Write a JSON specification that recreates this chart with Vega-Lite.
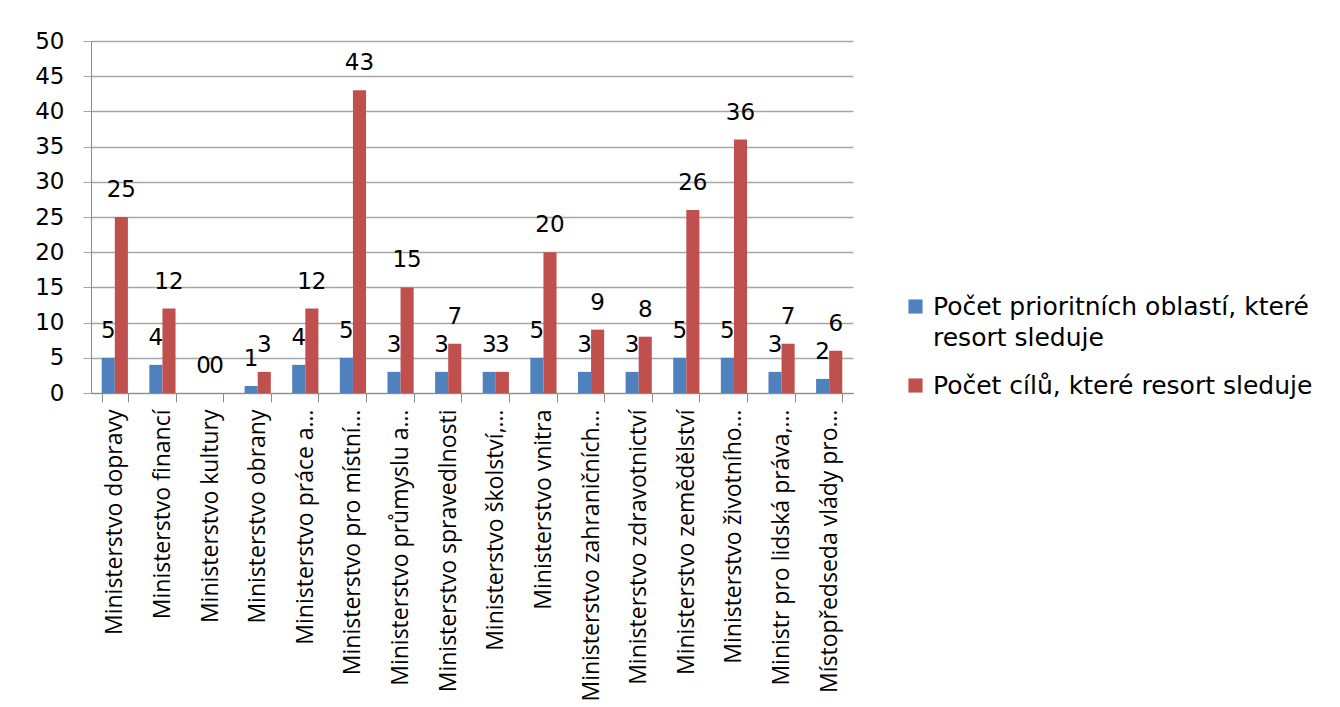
{
  "$schema": "https://vega.github.io/schema/vega-lite/v6.json",
  "autosize": {"type": "none"},
  "width": 762,
  "height": 352,
  "padding": {"left": 91, "top": 41, "right": 487, "bottom": 314},
  "background": "white",
  "config": {
    "font": "DejaVu Sans",
    "view": {"stroke": null},
    "style": {"guide-label": {"lineHeight": 31}}
  },
  "data": {
    "values": [
      {"category": "Ministerstvo dopravy", "series": "Počet prioritních oblastí, které resort sleduje", "value": 5},
      {"category": "Ministerstvo dopravy", "series": "Počet cílů, které resort sleduje", "value": 25},
      {"category": "Ministerstvo financí", "series": "Počet prioritních oblastí, které resort sleduje", "value": 4},
      {"category": "Ministerstvo financí", "series": "Počet cílů, které resort sleduje", "value": 12},
      {"category": "Ministerstvo kultury", "series": "Počet prioritních oblastí, které resort sleduje", "value": 0},
      {"category": "Ministerstvo kultury", "series": "Počet cílů, které resort sleduje", "value": 0},
      {"category": "Ministerstvo obrany", "series": "Počet prioritních oblastí, které resort sleduje", "value": 1},
      {"category": "Ministerstvo obrany", "series": "Počet cílů, které resort sleduje", "value": 3},
      {"category": "Ministerstvo práce a…", "series": "Počet prioritních oblastí, které resort sleduje", "value": 4},
      {"category": "Ministerstvo práce a…", "series": "Počet cílů, které resort sleduje", "value": 12},
      {"category": "Ministerstvo pro místní…", "series": "Počet prioritních oblastí, které resort sleduje", "value": 5},
      {"category": "Ministerstvo pro místní…", "series": "Počet cílů, které resort sleduje", "value": 43},
      {"category": "Ministerstvo průmyslu a…", "series": "Počet prioritních oblastí, které resort sleduje", "value": 3},
      {"category": "Ministerstvo průmyslu a…", "series": "Počet cílů, které resort sleduje", "value": 15},
      {"category": "Ministerstvo spravedlnosti", "series": "Počet prioritních oblastí, které resort sleduje", "value": 3},
      {"category": "Ministerstvo spravedlnosti", "series": "Počet cílů, které resort sleduje", "value": 7},
      {"category": "Ministerstvo školství,…", "series": "Počet prioritních oblastí, které resort sleduje", "value": 3},
      {"category": "Ministerstvo školství,…", "series": "Počet cílů, které resort sleduje", "value": 3},
      {"category": "Ministerstvo vnitra", "series": "Počet prioritních oblastí, které resort sleduje", "value": 5},
      {"category": "Ministerstvo vnitra", "series": "Počet cílů, které resort sleduje", "value": 20},
      {"category": "Ministerstvo zahraničních…", "series": "Počet prioritních oblastí, které resort sleduje", "value": 3},
      {"category": "Ministerstvo zahraničních…", "series": "Počet cílů, které resort sleduje", "value": 9},
      {"category": "Ministerstvo zdravotnictví", "series": "Počet prioritních oblastí, které resort sleduje", "value": 3},
      {"category": "Ministerstvo zdravotnictví", "series": "Počet cílů, které resort sleduje", "value": 8},
      {"category": "Ministerstvo zemědělství", "series": "Počet prioritních oblastí, které resort sleduje", "value": 5},
      {"category": "Ministerstvo zemědělství", "series": "Počet cílů, které resort sleduje", "value": 26},
      {"category": "Ministerstvo životního…", "series": "Počet prioritních oblastí, které resort sleduje", "value": 5},
      {"category": "Ministerstvo životního…", "series": "Počet cílů, které resort sleduje", "value": 36},
      {"category": "Ministr pro lidská práva,…", "series": "Počet prioritních oblastí, které resort sleduje", "value": 3},
      {"category": "Ministr pro lidská práva,…", "series": "Počet cílů, které resort sleduje", "value": 7},
      {"category": "Místopředseda vlády pro…", "series": "Počet prioritních oblastí, které resort sleduje", "value": 2},
      {"category": "Místopředseda vlády pro…", "series": "Počet cílů, které resort sleduje", "value": 6}
    ]
  },
  "encoding": {
    "x": {
      "field": "category",
      "type": "nominal",
      "sort": null,
      "title": null,
      "scale": {"paddingInner": 0.45, "paddingOuter": 0.225},
      "axis": {
        "labelAngle": -90,
        "labelFont": "Open Sans",
        "labelFontSize": 23,
        "labelColor": "#000000",
        "labelPadding": 7,
        "labelLimit": 400,
        "domainColor": "#8c8c8c",
        "tickColor": "#8c8c8c",
        "tickSize": 9,
        "tickBand": "extent",
        "grid": false
      }
    },
    "xOffset": {
      "field": "series",
      "type": "nominal",
      "sort": ["Počet prioritních oblastí, které resort sleduje", "Počet cílů, které resort sleduje"]
    },
    "y": {
      "field": "value",
      "type": "quantitative",
      "title": null,
      "scale": {"domain": [0, 50], "nice": false},
      "axis": {
        "values": [0, 5, 10, 15, 20, 25, 30, 35, 40, 45, 50],
        "labelFontSize": 23,
        "labelColor": "#000000",
        "labelPadding": 19,
        "domainColor": "#8c8c8c",
        "tickColor": "#a6a6a6",
        "tickSize": 8,
        "gridColor": "#a6a6a6",
        "gridWidth": 1.5
      }
    }
  },
  "layer": [
    {
      "mark": {"type": "bar"},
      "encoding": {
        "color": {
          "field": "series",
          "type": "nominal",
          "sort": ["Počet prioritních oblastí, které resort sleduje", "Počet cílů, které resort sleduje"],
          "scale": {
            "domain": ["Počet prioritních oblastí, které resort sleduje", "Počet cílů, které resort sleduje"],
            "range": ["#4F81BD", "#C0504D"]
          },
          "legend": {
            "title": null,
            "orient": "none",
            "legendX": 812,
            "legendY": 253,
            "symbolType": "square",
            "symbolSize": 200,
            "symbolStrokeWidth": 0,
            "labelFontSize": 25,
            "labelColor": "#000000",
            "labelLimit": 500,
            "labelOffset": 5,
            "rowPadding": 22,
            "labelExpr": "datum.label == 'Počet prioritních oblastí, které resort sleduje' ? ['Počet prioritních oblastí, které', 'resort sleduje'] : datum.label"
          }
        }
      }
    },
    {
      "mark": {"type": "text", "dy": -27, "fontSize": 23, "color": "#000000"},
      "encoding": {
        "text": {"field": "value", "type": "quantitative"}
      }
    }
  ]
}
